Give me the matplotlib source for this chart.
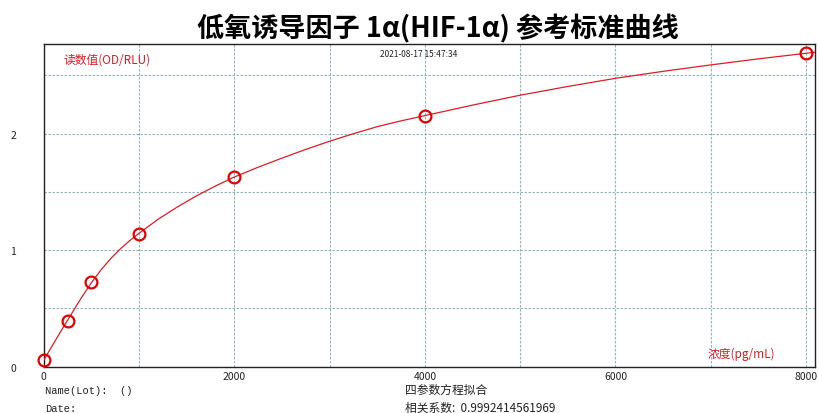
import matplotlib
matplotlib.use("Agg")
import matplotlib.pyplot as plt

plt.rcParams["font.family"] = ["Noto Sans CJK SC", "DejaVu Sans"]

# standard points (concentration pg/mL, reading OD)
conc = [0, 250, 500, 1000, 2000, 4000, 8000]
od = [0.055, 0.395, 0.727, 1.142, 1.628, 2.152, 2.69]

# fitted curve
curve_x = [0, 100, 200, 300, 400, 500, 600, 700, 800, 900, 1000,
           1200, 1400, 1600, 1800, 2000, 2250, 2500, 2750, 3000, 3250,
           3500, 3750, 4000, 4500, 5000, 5500, 6000, 6500, 7000, 7500,
           8000, 8090]
curve_y = [0.055, 0.195, 0.332, 0.465, 0.598, 0.72, 0.83, 0.925, 1.008,
           1.08, 1.145, 1.265, 1.37, 1.465, 1.55, 1.628, 1.712, 1.79,
           1.865, 1.935, 2.0, 2.06, 2.11, 2.155, 2.245, 2.33, 2.405,
           2.475, 2.535, 2.59, 2.642, 2.69, 2.698]

x_ticks = [0, 2000, 4000, 6000, 8000]
y_ticks = [0, 1, 2]

RED = "#d81e28"
GRID = "#8db3bb"

fig = plt.figure(figsize=(8.19, 4.14), dpi=100)
ax = fig.add_axes([0.0534, 0.1118, 0.9413, 0.7788])

ax.plot(curve_x, curve_y, color=RED, lw=0.9, zorder=3)
ax.plot(conc, od, "o", ms=8.5, mfc="none", mec="#e00000", mew=1.6, zorder=4,
        clip_on=False)

ax.set_xlim(0, 8090)
ax.set_ylim(0, 2.767)
ax.set_xticks(x_ticks)
ax.set_yticks(y_ticks)
ax.set_xticks(range(0, 8001, 1000), minor=True)
ax.set_yticks([0.5, 1.5, 2.5], minor=True)
ax.grid(True, which="both", color=GRID, ls=(0, (2.2, 1.4)), lw=0.8)
ax.tick_params(which="both", length=0)
ax.tick_params(axis="x", pad=3, labelsize=7.5, colors="#222222")
ax.tick_params(axis="y", pad=20, labelsize=7.5, colors="#222222")
for s in ax.spines.values():
    s.set_color("#222222")
    s.set_linewidth(1.0)

ax.text(0.026, 0.975, "读数值(OD/RLU)", transform=ax.transAxes, color=RED,
        fontsize=8.5, va="top", ha="left")
ax.text(0.861, 0.04, "浓度(pg/mL)", transform=ax.transAxes, color=RED,
        fontsize=8.5, va="center", ha="left")
ax.text(0.486, 0.985, "2021-08-17 15:47:34", transform=ax.transAxes,
        color="#222222", fontsize=6, va="top", ha="center")

fig.text(0.535, 0.93, "低氧诱导因子 1α(HIF-1α) 参考标准曲线", ha="center",
         va="center", fontsize=19.5, fontweight="bold", color="black")

fig.text(0.055, 0.055, "Name(Lot):  ()", fontsize=7.5, va="center",
         family=["Liberation Mono", "DejaVu Sans Mono"], color="#222222")
fig.text(0.055, 0.013, "Date:", fontsize=7.5, va="center",
         family=["Liberation Mono", "DejaVu Sans Mono"], color="#222222")
fig.text(0.494, 0.057, "四参数方程拟合", fontsize=8.5, va="center", color="#222222")
fig.text(0.494, 0.013, "相关系数:  0.9992414561969", fontsize=8.5, va="center",
         color="#222222")

fig.savefig("out.png", dpi=100)
